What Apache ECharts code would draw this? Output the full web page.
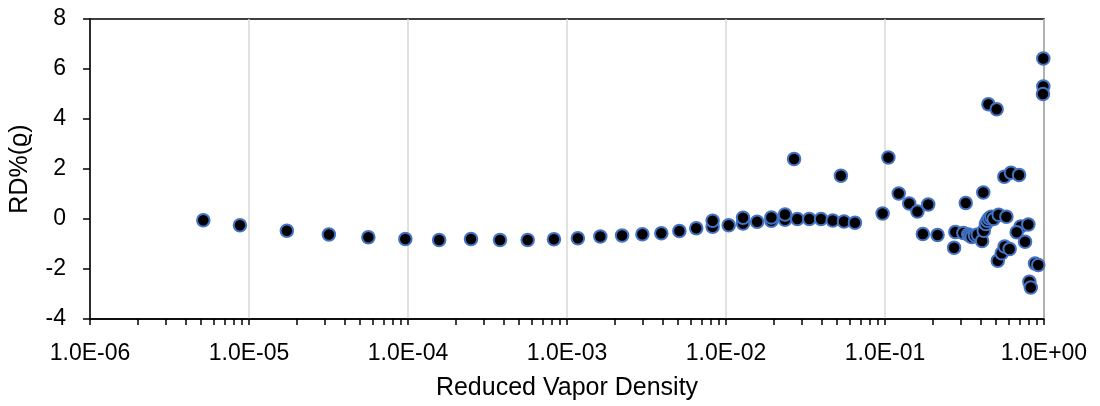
<!DOCTYPE html>
<html>
<head>
<meta charset="utf-8">
<script src="https://cdn.jsdelivr.net/npm/echarts@6/dist/echarts.min.js"></script>
<style>
html,body{margin:0;padding:0;background:#fff;}
#chart{width:1100px;height:406px;}
</style>
</head>
<body>
<div id="chart"></div>
<script>
// Reduced vapor density (x) and RD%(rho) (y)
const densityValues = [
  5.16e-6, 8.77e-6, 1.73e-5, 3.18e-5, 5.63e-5, 9.62e-5, 1.57e-4, 2.49e-4, 3.79e-4, 5.66e-4,
  8.28e-4, 1.17e-3, 1.62e-3, 2.22e-3, 2.98e-3, 3.92e-3, 5.09e-3, 6.50e-3, 8.24e-3, 8.24e-3,
  1.04e-2, 1.28e-2, 1.28e-2, 1.57e-2, 1.93e-2, 1.93e-2, 2.35e-2, 2.35e-2, 2.68e-2, 2.81e-2,
  3.34e-2, 3.96e-2, 4.69e-2, 5.28e-2, 5.52e-2, 6.47e-2,
  0.0966, 0.105, 0.122, 0.142, 0.160, 0.173, 0.187, 0.214, 0.272, 0.277,
  0.322, 0.311, 0.334, 0.342, 0.351, 0.368, 0.383, 0.408, 0.415, 0.418,
  0.431, 0.441, 0.452, 0.447, 0.504, 0.466, 0.482, 0.519, 0.512, 0.542,
  0.563, 0.566, 0.608, 0.580, 0.620, 0.697, 0.714, 0.797, 0.673, 0.760,
  0.809, 0.826, 0.878, 0.920, 0.99, 0.99, 0.985
];
const rdValues = [
  -0.05, -0.25, -0.47, -0.62, -0.73, -0.80, -0.84, -0.80, -0.84, -0.84,
  -0.81, -0.77, -0.70, -0.66, -0.61, -0.57, -0.48, -0.37, -0.31, -0.07,
  -0.25, -0.18, 0.05, -0.11, -0.07, 0.06, -0.03, 0.18, 2.40, 0.00,
  0.00, 0.00, -0.06, 1.73, -0.10, -0.15,
  0.22, 2.46, 1.02, 0.62, 0.30, -0.60, 0.58, -0.64, -1.15, -0.52,
  0.64, -0.56, -0.62, -0.67, -0.72, -0.66, -0.62, -0.88, 1.06, -0.47,
  -0.20, -0.07, 0.03, 4.59, 4.39, 0.09, 0.00, 0.17, -1.67, -1.37,
  1.69, -1.10, -1.20, 0.09, 1.85, 1.76, -0.30, -0.22, -0.53, -0.91,
  -2.51, -2.74, -1.78, -1.84, 6.42, 5.30, 5.00
];
const decadeTicks = [1e-6, 1e-5, 1e-4, 1e-3, 1e-2, 1e-1, 1];
const yTicks = [-4, -2, 0, 2, 4, 6, 8];
const xTitle = 'Reduced Vapor Density';
const yTitle = 'RD%(\u03F1)';

const minorTicks = [];
for (let d = 0; d < decadeTicks.length - 1; d++) {
  for (let k = 1; k <= 9; k++) minorTicks.push(+(k * decadeTicks[d]).toPrecision(3));
}
minorTicks.push(1);

const points = densityValues.map((x, i) => [x, rdValues[i]]);

function fmtExp(v) {
  const e = Math.round(Math.log10(v));
  return '1.0E' + (e < 0 ? '-' : '+') + String(Math.abs(e)).padStart(2, '0');
}

const FONT = '"Liberation Sans", Arial, sans-serif';
const chart = echarts.init(document.getElementById('chart'), null, {renderer: 'canvas'});
chart.setOption({
  animation: false,
  backgroundColor: '#fff',
  grid: {left: 90, right: 56, top: 19, bottom: 86, show: true, borderColor: '#000', borderWidth: 1.5, backgroundColor: 'transparent'},
  xAxis: [{
    type: 'log', logBase: 10, min: 1e-6, max: 1, position: 'bottom',
    name: xTitle, nameLocation: 'middle', nameGap: 57,
    nameTextStyle: {fontFamily: FONT, fontSize: 25, color: '#000'},
    axisLine: {show: true, onZero: false, lineStyle: {color: '#000', width: 1.5}},
    axisTick: {show: true, inside: false, length: 6, customValues: minorTicks, lineStyle: {color: '#000', width: 1.5}},
    axisLabel: {customValues: decadeTicks, formatter: fmtExp, margin: 23, fontFamily: FONT, fontSize: 23, color: '#000', hideOverlap: false, showMinLabel: true, showMaxLabel: true},
    splitLine: {show: false}
  }, {
    type: 'log', logBase: 10, min: 1e-6, max: 1, position: 'top',
    axisLine: {show: false, onZero: false}, axisLabel: {show: false},
    axisTick: {show: false, customValues: decadeTicks},
    splitLine: {show: true, lineStyle: {color: '#d9d9d9', width: 1.5}}
  }],
  yAxis: {
    type: 'value', min: -4, max: 8, interval: 2,
    name: yTitle, nameLocation: 'middle', nameGap: 57,
    nameTextStyle: {fontFamily: FONT, fontSize: 25, color: '#000'},
    axisLine: {show: true, lineStyle: {color: '#000', width: 1.5}},
    axisTick: {show: true, inside: false, length: 7, lineStyle: {color: '#000', width: 1.5}},
    axisLabel: {margin: 24, fontFamily: FONT, fontSize: 23, color: '#000', formatter: v => String(v)},
    splitLine: {show: false}
  },
  series: [{
    type: 'scatter', xAxisIndex: 0, data: points,
    symbol: 'circle', symbolSize: 12.5,
    itemStyle: {color: '#000', borderColor: '#4472C4', borderWidth: 2, opacity: 1},
    emphasis: {disabled: true}
  }]
});
</script>
</body>
</html>
